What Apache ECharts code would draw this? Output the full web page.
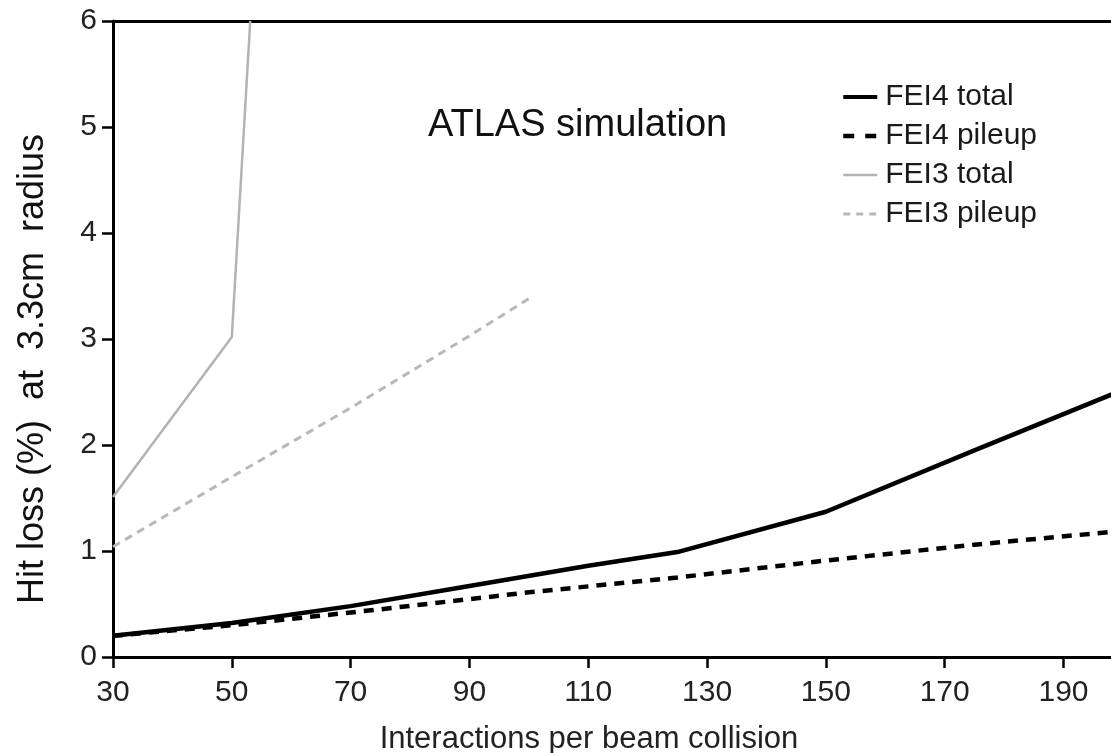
<!DOCTYPE html>
<html>
<head>
<meta charset="utf-8">
<script src="https://cdn.jsdelivr.net/npm/echarts@6/dist/echarts.min.js"></script>
<style>
html,body{margin:0;padding:0;background:#fff;}
#chart{width:1111px;height:753px;}
</style>
</head>
<body>
<div id="chart"></div>
<script>
// ---- data ----
const xTicks = [30, 50, 70, 90, 110, 130, 150, 170, 190];
const yTicks = [0, 1, 2, 3, 4, 5, 6];

const fei4TotalX = [30, 50, 70, 90, 110, 125, 150, 175, 200];
const fei4TotalY = [0.20, 0.32, 0.48, 0.67, 0.86, 0.99, 1.37, 1.95, 2.52];

const fei4PileupX = [30, 50, 75, 100, 125, 150, 175, 200];
const fei4PileupY = [0.20, 0.30, 0.45, 0.61, 0.75, 0.91, 1.06, 1.19];

const fei3TotalX = [30, 50, 53.1];
const fei3TotalY = [1.51, 3.02, 6.0];

const fei3PileupX = [30, 50, 70, 90, 100];
const fei3PileupY = [1.04, 1.70, 2.35, 3.03, 3.38];

const seriesNames = ['FEI4 total', 'FEI4 pileup', 'FEI3 total', 'FEI3 pileup'];
const xTitle = 'Interactions per beam collision';
const yTitle = 'Hit loss (%)  at  3.3cm  radius';
const annotation = 'ATLAS simulation';

function pairs(xs, ys) { return xs.map((x, i) => [x, ys[i]]); }

const FONT = '"Liberation Sans", Arial, sans-serif';
const chart = echarts.init(document.getElementById('chart'), null, {renderer: 'canvas'});

const styles = [
  {color: '#000', width: 4.5, type: 'solid', legendWidth: 4, legendType: 'solid'},
  {color: '#000', width: 4.5, type: [10, 8], legendWidth: 4.5, legendType: [11, 11]},
  {color: '#b3b3b3', width: 2.5, type: 'solid', legendWidth: 2.5, legendType: 'solid'},
  {color: '#b8b8b8', width: 3, type: [8, 6], legendWidth: 3, legendType: [7, 6]}
];

const option = {
  animation: false,
  backgroundColor: '#fff',
  grid: {left: 113, right: 0, top: 21, bottom: 96, containLabel: false},
  legend: {
    data: seriesNames.map((n, i) => ({
      name: n,
      itemStyle: {opacity: 0},
      lineStyle: {color: styles[i].color, width: styles[i].legendWidth, type: styles[i].legendType, opacity: 1}
    })),
    orient: 'vertical',
    left: 836,
    top: 77,
    itemWidth: 34,
    itemHeight: 14,
    itemGap: 9,
    textStyle: {fontFamily: FONT, fontSize: 30, color: '#1a1a1a', padding: [0, 0, 0, 3]}
  },
  xAxis: [{
    type: 'value',
    min: 30, max: 198, interval: 20,
    position: 'bottom',
    splitLine: {show: false},
    axisLine: {show: true, lineStyle: {color: '#000', width: 3}},
    axisTick: {show: true, inside: false, length: 11, lineStyle: {color: '#000', width: 2.5}},
    axisLabel: {
      show: true, margin: 21, showMaxLabel: false,
      fontFamily: FONT, fontSize: 30, color: '#222',
      formatter: v => xTicks.indexOf(v) >= 0 ? String(v) : ''
    }
  }, {
    type: 'value',
    min: 30, max: 198,
    position: 'top',
    splitLine: {show: false},
    axisLine: {show: true, onZero: false, lineStyle: {color: '#000', width: 3}},
    axisTick: {show: false},
    axisLabel: {show: false}
  }],
  yAxis: {
    type: 'value',
    min: 0, max: 6, interval: 1,
    splitLine: {show: false},
    axisLine: {show: true, lineStyle: {color: '#000', width: 3}},
    axisTick: {show: true, inside: false, length: 11, lineStyle: {color: '#000', width: 2.5}},
    axisLabel: {
      margin: 16, fontFamily: FONT, fontSize: 30, color: '#222',
      formatter: v => yTicks.indexOf(v) >= 0 ? String(v) : ''
    }
  },
  graphic: [
    {type: 'text', left: 428, top: 107, z: 10,
     style: {text: annotation, font: '38px ' + FONT, fill: '#111'}},
    {type: 'text', x: 33, y: 369, rotation: Math.PI / 2, z: 10,
     style: {text: yTitle, font: '36px ' + FONT, fill: '#111', textAlign: 'center', textVerticalAlign: 'middle'}},
    {type: 'text', x: 589, y: 739, z: 10,
     style: {text: xTitle, font: '31px ' + FONT, fill: '#222', textAlign: 'center', textVerticalAlign: 'middle'}}
  ],
  series: seriesNames.map((n, i) => ({
    name: n, type: 'line',
    data: [pairs(fei4TotalX, fei4TotalY), pairs(fei4PileupX, fei4PileupY),
           pairs(fei3TotalX, fei3TotalY), pairs(fei3PileupX, fei3PileupY)][i],
    symbol: 'none', clip: true, z: 5 - i,
    color: styles[i].color,
    lineStyle: {color: styles[i].color, width: styles[i].width, type: styles[i].type}
  }))
};
chart.setOption(option);
</script>
</body>
</html>
